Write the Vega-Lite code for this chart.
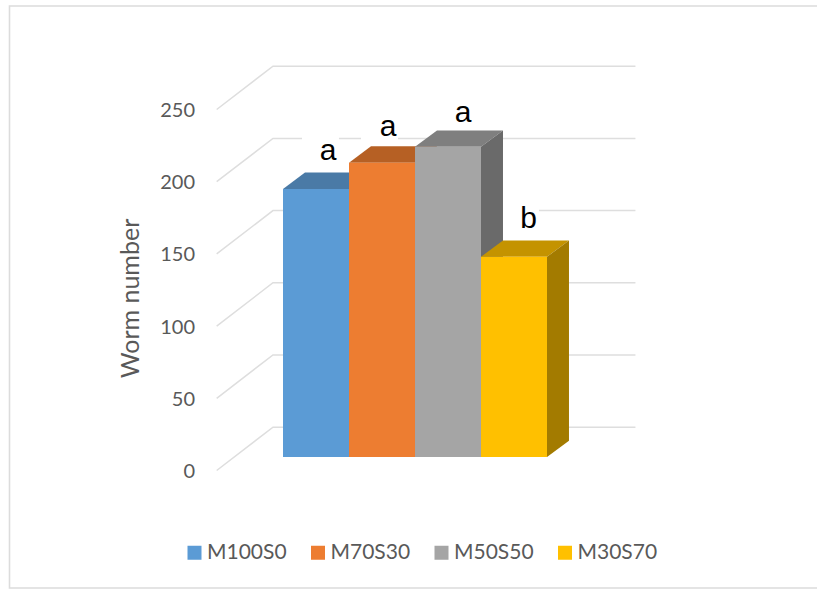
{
  "$schema": "https://vega.github.io/schema/vega-lite/v6.json",
  "width": 812,
  "height": 582,
  "autosize": {"type": "none"},
  "padding": {"left": 9.5, "top": 6, "right": 0, "bottom": 2},
  "background": "white",
  "config": {"view": {"stroke": "#DCDCDC", "strokeWidth": 1.6}},
  "datasets": {
    "wall": [
      {"tick": 0, "u": -1.005, "level": 0}, {"tick": 0, "u": -0.152, "level": 30}, {"tick": 0, "u": 5.34, "level": 30},
      {"tick": 50, "u": -1.005, "level": 50}, {"tick": 50, "u": -0.152, "level": 80}, {"tick": 50, "u": 5.34, "level": 80},
      {"tick": 100, "u": -1.005, "level": 100}, {"tick": 100, "u": -0.152, "level": 130}, {"tick": 100, "u": 5.34, "level": 130},
      {"tick": 150, "u": -1.005, "level": 150}, {"tick": 150, "u": -0.152, "level": 180}, {"tick": 150, "u": 5.34, "level": 180},
      {"tick": 200, "u": -1.005, "level": 200}, {"tick": 200, "u": -0.152, "level": 230}, {"tick": 200, "u": 5.34, "level": 230},
      {"tick": 250, "u": -1.005, "level": 250}, {"tick": 250, "u": -0.152, "level": 280}, {"tick": 250, "u": 5.34, "level": 280}
    ],
    "notes": [
      {"label": "a", "u": 0.682, "at": 215, "boxL": 0.288, "boxR": 0.848, "boxB": 208, "boxT": 236},
      {"label": "a", "u": 1.591, "at": 231.6, "boxL": 1.182, "boxR": 1.742, "boxB": 225, "boxT": 253},
      {"label": "a", "u": 2.727, "at": 241.3, "boxL": 2.44, "boxR": 3.0, "boxB": 235, "boxT": 260},
      {"label": "b", "u": 3.72, "at": 167.9, "boxL": 3.333, "boxR": 3.879, "boxB": 163, "boxT": 191}
    ],
    "faces": [
      {"face": "M100S0 top", "u": 0, "low": 195, "high": 195},
      {"face": "M100S0 top", "u": 0.333, "low": 195, "high": 206.3},
      {"face": "M100S0 top", "u": 1, "low": 195, "high": 206.3},
      {"face": "M100S0 top", "u": 1.333, "low": 206.3, "high": 206.3},
      {"face": "M100S0 side", "u": 1, "low": 9.35, "high": 195},
      {"face": "M100S0 side", "u": 1.333, "low": 20.65, "high": 206.3},
      {"face": "M100S0", "u": 0, "low": 9.35, "high": 195},
      {"face": "M100S0", "u": 1, "low": 9.35, "high": 195},

      {"face": "M70S30 top", "u": 1, "low": 213.2, "high": 213.2},
      {"face": "M70S30 top", "u": 1.333, "low": 213.2, "high": 224.5},
      {"face": "M70S30 top", "u": 2, "low": 213.2, "high": 224.5},
      {"face": "M70S30 top", "u": 2.333, "low": 224.5, "high": 224.5},
      {"face": "M70S30 side", "u": 2, "low": 9.35, "high": 213.2},
      {"face": "M70S30 side", "u": 2.333, "low": 20.65, "high": 224.5},
      {"face": "M70S30", "u": 1, "low": 9.35, "high": 213.2},
      {"face": "M70S30", "u": 2, "low": 9.35, "high": 213.2},

      {"face": "M50S50 top", "u": 2, "low": 224.2, "high": 224.2},
      {"face": "M50S50 top", "u": 2.333, "low": 224.2, "high": 235.5},
      {"face": "M50S50 top", "u": 3, "low": 224.2, "high": 235.5},
      {"face": "M50S50 top", "u": 3.333, "low": 235.5, "high": 235.5},
      {"face": "M50S50 side", "u": 3, "low": 9.35, "high": 224.2},
      {"face": "M50S50 side", "u": 3.333, "low": 20.65, "high": 235.5},
      {"face": "M50S50", "u": 2, "low": 9.35, "high": 224.2},
      {"face": "M50S50", "u": 3, "low": 9.35, "high": 224.2},

      {"face": "M30S70 top", "u": 3, "low": 148, "high": 148},
      {"face": "M30S70 top", "u": 3.333, "low": 148, "high": 159.3},
      {"face": "M30S70 top", "u": 4, "low": 148, "high": 159.3},
      {"face": "M30S70 top", "u": 4.333, "low": 159.3, "high": 159.3},
      {"face": "M30S70 side", "u": 4, "low": 9.35, "high": 148},
      {"face": "M30S70 side", "u": 4.333, "low": 20.65, "high": 159.3},
      {"face": "M30S70", "u": 3, "low": 9.35, "high": 148},
      {"face": "M30S70", "u": 4, "low": 9.35, "high": 148}
    ]
  },
  "layer": [
    {
      "data": {"name": "wall"},
      "mark": {"type": "line", "color": "#DEDEDE", "strokeWidth": 1.5, "interpolate": "linear"},
      "encoding": {
        "x": {"field": "u", "type": "quantitative", "scale": {"domain": [-4.144, 8.159], "nice": false, "zero": false}, "axis": null},
        "y": {
          "field": "level",
          "type": "quantitative",
          "scale": {"domain": [-81.4, 321.7], "nice": false, "zero": false},
          "axis": {
            "values": [0, 50, 100, 150, 200, 250],
            "offset": -207,
            "domain": false,
            "ticks": false,
            "grid": false,
            "labelFont": "Lato",
            "labelFontSize": 20,
            "labelColor": "#595959",
            "labelPadding": 22,
            "labelOffset": 1,
            "title": "Worm number",
            "titleFont": "Lato",
            "titleFontSize": 25,
            "titleFontWeight": "normal",
            "titleColor": "#595959",
            "titleX": -73,
            "titleY": 292
          }
        },
        "detail": {"field": "tick"}
      }
    },
    {
      "data": {"name": "notes"},
      "mark": {"type": "rect", "color": "white"},
      "encoding": {
        "x": {"field": "boxL", "type": "quantitative"},
        "x2": {"field": "boxR"},
        "y": {"field": "boxB", "type": "quantitative"},
        "y2": {"field": "boxT"}
      }
    },
    {
      "data": {"name": "faces"},
      "mark": {"type": "area", "opacity": 1},
      "encoding": {
        "x": {"field": "u", "type": "quantitative"},
        "y": {"field": "low", "type": "quantitative"},
        "y2": {"field": "high"},
        "color": {
          "field": "face",
          "type": "nominal",
          "sort": null,
          "scale": {
            "domain": ["M100S0", "M70S30", "M50S50", "M30S70", "M100S0 top", "M100S0 side", "M70S30 top", "M70S30 side", "M50S50 top", "M50S50 side", "M30S70 top", "M30S70 side"],
            "range": ["#5B9BD5", "#ED7D31", "#A5A5A5", "#FFC000", "#4A7AA6", "#3F6E99", "#B66024", "#A85A22", "#7F7F7F", "#6A6A6A", "#C49300", "#A37B00"]
          },
          "legend": {
            "values": ["M100S0", "M70S30", "M50S50", "M30S70"],
            "orient": "none",
            "legendX": 174.5,
            "legendY": 536,
            "direction": "horizontal",
            "columns": 4,
            "title": null,
            "symbolType": "square",
            "symbolSize": 196,
            "symbolStrokeWidth": 0,
            "labelFont": "Lato",
            "labelFontSize": 21,
            "labelColor": "#595959",
            "labelOffset": 2,
            "columnPadding": 20.5,
            "labelLimit": 200
          }
        }
      }
    },
    {
      "data": {"name": "notes"},
      "mark": {"type": "text", "font": "Liberation Sans", "fontSize": 30, "color": "black", "baseline": "alphabetic", "align": "center"},
      "encoding": {
        "x": {"field": "u", "type": "quantitative"},
        "y": {"field": "at", "type": "quantitative"},
        "text": {"field": "label"}
      }
    }
  ]
}
